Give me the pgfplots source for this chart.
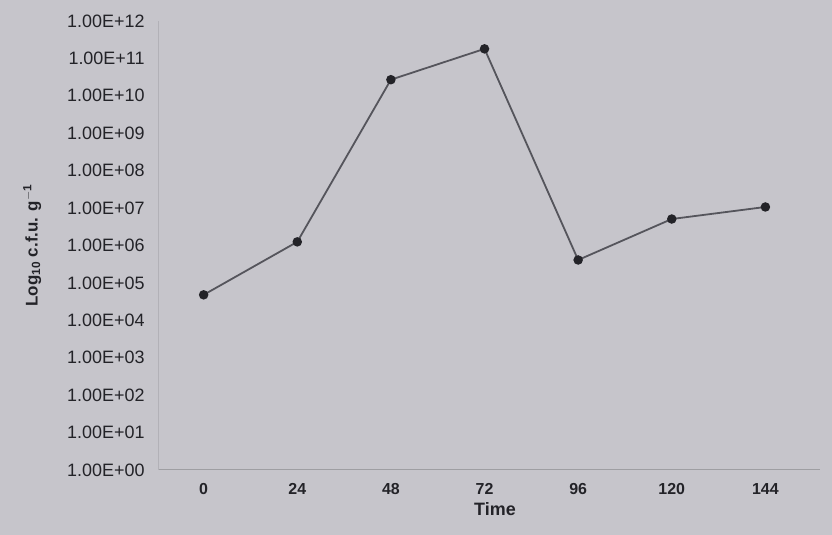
\documentclass[border=0pt]{standalone}
\usepackage{fontspec}
\setmainfont{Liberation Sans}
\usepackage{pgfplots}
\pgfplotsset{compat=1.18}
\definecolor{paper}{RGB}{198,197,203}
\definecolor{ink}{RGB}{35,35,40}
\definecolor{trace}{RGB}{85,85,92}
\begin{document}
\begin{tikzpicture}[x=1bp,y=1bp]
\useasboundingbox (0,0) rectangle (832,535);
\fill[paper] (0,0) rectangle (832,535);
\begin{axis}[
  at={(158bp,65bp)}, anchor=south west,
  scale only axis, width=662bp, height=449bp,
  ymode=log, ymin=1, ymax=1e12,
  xmin=-11.7, xmax=158,
  axis x line*=bottom, axis y line*=left,
  x axis line style={draw=paper!80!black, line width=1bp, -},
  y axis line style={draw=paper!90!black, line width=0.8bp, -},
  xtick={0,24,48,72,96,120,144},
  ytick={1e0,1e1,1e2,1e3,1e4,1e5,1e6,1e7,1e8,1e9,1e10,1e11,1e12},
  yticklabels={1.00E+00,1.00E+01,1.00E+02,1.00E+03,1.00E+04,1.00E+05,1.00E+06,1.00E+07,1.00E+08,1.00E+09,1.00E+10,1.00E+11,1.00E+12},
  major tick length=0pt, minor tick num=0,
  yminorticks=false,
  /pgf/number format/assume math mode=true,
  yticklabel style={font=\fontsize{18}{20}\selectfont, text=ink, anchor=east, xshift=-10bp},
  xticklabel style={font=\bfseries\fontsize{16}{18}\selectfont, text=ink, anchor=center, yshift=-19bp},
  xlabel={Time},
  xlabel style={at={(axis description cs:0.509,0)}, anchor=center, yshift=-39bp,
    font=\bfseries\fontsize{18}{20}\selectfont, text=ink},
  ylabel={Log$_{\mathbf{10}}$ c.f.u. g$^{\mathbf{-1}}$},
  ylabel style={at={(axis description cs:-0.19,0.5)}, anchor=center,
    font=\bfseries\fontsize{17}{20}\selectfont, text=ink},
  clip=false,
]
\addplot[color=trace, line width=1.8bp, mark=*, mark size=3.8bp,
  mark options={fill=ink, draw=ink}]
  coordinates {
    (0,4.8e4)
    (24,1.25e6)
    (48,2.7e10)
    (72,1.8e11)
    (96,4.1e5)
    (120,5.1e6)
    (144,1.07e7)
  };
\end{axis}
\end{tikzpicture}
\end{document}
